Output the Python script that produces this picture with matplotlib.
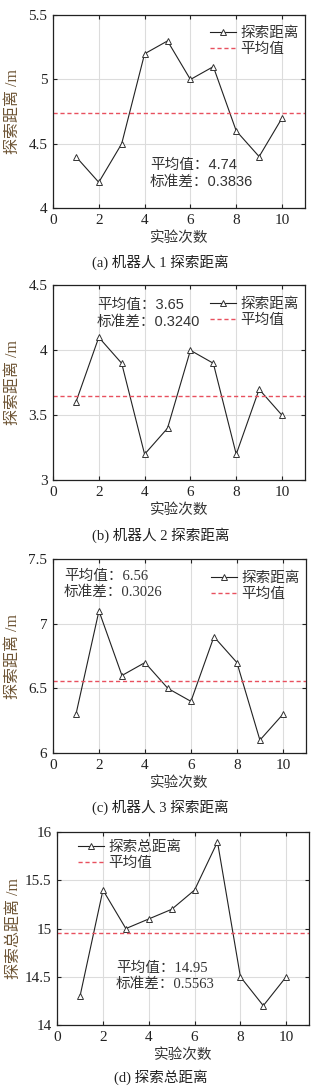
import numpy as np
import matplotlib
matplotlib.use("Agg")
import matplotlib.pyplot as plt
from matplotlib.ticker import FuncFormatter

SERIF = ["Liberation Serif", "Noto Sans CJK SC"]
SANS = ["Liberation Sans", "Noto Sans CJK SC"]
plt.rcParams["font.family"] = SERIF

# ---- data ----
trials = list(range(1, 11))
robot1 = [4.4, 4.2, 4.5, 5.2, 5.3, 5.0, 5.1, 4.6, 4.4, 4.7]
robot2 = [3.6, 4.1, 3.9, 3.2, 3.4, 4.0, 3.9, 3.2, 3.7, 3.5]
robot3 = [6.3, 7.1, 6.6, 6.7, 6.5, 6.4, 6.9, 6.7, 6.1, 6.3]
total = [14.3, 15.4, 15.0, 15.1, 15.2, 15.4, 15.9, 14.5, 14.2, 14.5]
means = [4.74, 3.65, 6.56, 14.95]
stds = ["0.3836", "0.3240", "0.3026", "0.5563"]
ylims = [(4, 5.5), (3, 4.5), (6, 7.5), (14, 16)]
series_labels = ["探索距离", "探索距离", "探索距离", "探索总距离"]
ylabels = ["探索距离 /m", "探索距离 /m", "探索距离 /m", "探索总距离 /m"]
captions = ["(a) 机器人 1 探索距离", "(b) 机器人 2 探索距离",
            "(c) 机器人 3 探索距离", "(d) 探索总距离"]
mean_label = "平均值"

# ---- layout (figure fractions) ----
axes_pos = [
    [0.165, 0.809, 0.785, 0.177],
    [0.165, 0.559, 0.785, 0.179],
    [0.165, 0.3085, 0.788, 0.178],
    [0.178, 0.0588, 0.785, 0.177],
]
caption_y = [1 - 262 / 1089, 1 - 535 / 1089, 1 - 807 / 1089, 1 - 1077 / 1089]
stat_pos = [(0.385, 0.26), (0.175, 0.935), (0.043, 0.945), (0.234, 0.33)]
stat_fonts = [SANS, SANS, SERIF, SERIF]
legend_loc = [("upper right", (1.0, 0.97)), ("upper right", (1.0, 0.965)),
              ("upper right", (1.0, 0.965)), ("upper left", (0.06, 0.985))]
ylabel_x = [-0.125, -0.125, -0.125, -0.138]

fig = plt.figure(figsize=(3.21, 10.89), dpi=100)
data = [robot1, robot2, robot3, total]
ylab_color = "#6e5535"

for i in range(4):
    ax = fig.add_axes(axes_pos[i])
    ax.plot(trials, data[i], color="#222222", lw=0.8, marker="^",
            markersize=5, markerfacecolor="white", markeredgecolor="#333333",
            markeredgewidth=0.7, label=series_labels[i])
    ax.axhline(means[i], color="#e8505e", lw=1.0, ls=(0, (3, 2)),
               label=mean_label)
    ax.set_xlim(0, 11)
    ax.set_ylim(*ylims[i])
    ax.set_xticks([0, 2, 4, 6, 8, 10])
    ax.set_yticks(np.arange(ylims[i][0], ylims[i][1] + 0.01, 0.5))
    ax.yaxis.set_major_formatter(FuncFormatter(lambda v, p: "%g" % v))
    ax.grid(True, color="#dcdcdc", lw=0.8)
    ax.set_axisbelow(True)
    ax.tick_params(direction="in", top=True, right=True, length=3,
                   width=0.8, labelsize=11, pad=4, colors="#222222")
    for s in ax.spines.values():
        s.set_linewidth(0.9)
        s.set_color("#222222")
    ax.set_xlabel("实验次数", fontsize=10.5, color="#333333")
    ax.xaxis.set_label_coords(0.5, -0.12)
    ax.set_ylabel(ylabels[i], fontsize=11.5, color=ylab_color)
    ax.yaxis.set_label_coords(ylabel_x[i], 0.5)

    loc, anchor = legend_loc[i]
    leg = ax.legend(loc=loc, bbox_to_anchor=anchor, frameon=False,
                    fontsize=10.5, handlelength=1.8, handletextpad=0.3,
                    labelspacing=0.15, borderaxespad=0.2, borderpad=0.2,
                    numpoints=1)
    for t in leg.get_texts():
        t.set_color("#333333")

    sx, sy = stat_pos[i]
    ax.text(sx, sy, "平均值：%.2f\n标准差：%s" % (means[i], stds[i]),
            transform=ax.transAxes, ha="left", va="top", fontsize=10.5,
            family=stat_fonts[i], color="#333333", linespacing=1.25)

    fig.text(0.5, caption_y[i], captions[i], ha="center", va="center",
             fontsize=10.5, color="#222222")

fig.savefig("out.png", dpi=100)
